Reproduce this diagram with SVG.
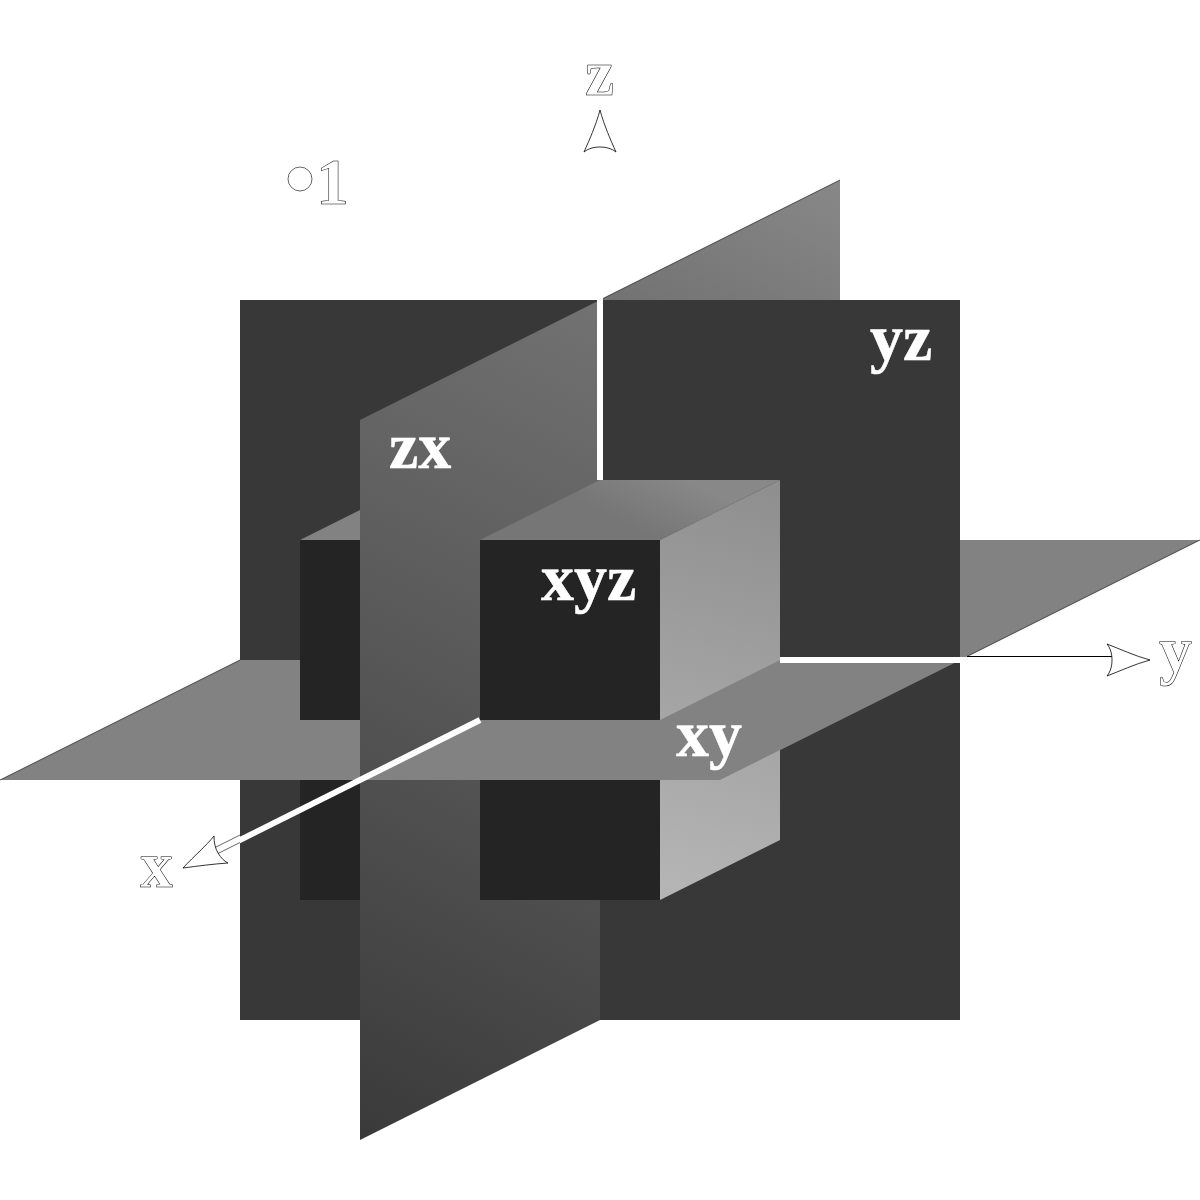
<svg xmlns="http://www.w3.org/2000/svg" width="1200" height="1200" viewBox="0 0 1200 1200">
<style>
.lab{font-family:"Liberation Serif",serif;font-size:66px;font-weight:bold;fill:#fff;stroke:#fff;stroke-width:.5}
.ax{font-family:"Liberation Serif",serif;font-size:66px;font-weight:bold;fill:#fff;stroke:#000;stroke-width:.5}
.xy{fill:#828282}
.yz{fill:#383838}
.front{fill:#242424}
.edge{fill:none;stroke:#000;stroke-width:.6}
.head{fill:#fff;stroke:#000;stroke-width:.8;stroke-linejoin:miter}
.w{stroke:#fff;stroke-width:6;fill:none}
</style>
<defs>
<linearGradient id="gz" gradientUnits="userSpaceOnUse" x1="840" y1="180" x2="360" y2="1140"><stop offset="0" stop-color="#888"/><stop offset=".2" stop-color="#727272"/><stop offset="1" stop-color="#3a3a3a"/></linearGradient>
<linearGradient id="gr" gradientUnits="userSpaceOnUse" x1="780" y1="480" x2="660" y2="900"><stop offset="0" stop-color="#8e8e8e"/><stop offset="1" stop-color="#b6b6b6"/></linearGradient>
<linearGradient id="gt" gradientUnits="userSpaceOnUse" x1="690" y1="480" x2="660" y2="540"><stop offset="0" stop-color="#888"/><stop offset="1" stop-color="#767676"/></linearGradient>
</defs>
<rect width="1200" height="1200" fill="#fff"/>
<g id="plane-zx-back"><polygon points="603,298.500 840,180 840,300 603,300" fill="url(#gz)"/></g>
<g id="plane-xy-back"><polygon class="xy" points="960,540 1200,540 960,660"/></g>
<g id="plane-yz"><rect class="yz" x="240" y="300" width="720" height="720"/></g>
<g id="block-left-lower"><rect class="front" x="300" y="780" width="60" height="120"/></g>
<g id="plane-xy"><polygon class="xy" points="0,780 240,660 960,660 720,780"/></g>
<g id="block-left-upper"><rect class="front" x="300" y="540" width="60" height="180"/><polygon class="xy" points="300,540 360,510 360,540"/></g>
<g id="plane-zx"><polygon points="360,420 597,301.500 597,480 600,480 600,1020 360,1140" fill="url(#gz)"/></g>
<g id="cube-lower"><rect class="front" x="480" y="780" width="180" height="120"/><polygon points="660,780 780,720 780,840 660,900" fill="url(#gr)"/></g>
<g id="plane-xy-front"><polygon class="xy" points="360,780 480,720 480,660 960,660 720,780"/></g>
<g id="cube-upper"><rect class="front" x="480" y="540" width="180" height="180"/><polygon points="480,540 600,480 780,480 660,540" fill="url(#gt)"/><polygon points="660,540 780,480 780,660 660,720" fill="url(#gr)"/></g>
<g id="connectors">
<line class="w" x1="600" y1="300" x2="600" y2="480"/>
<line class="w" x1="780" y1="660" x2="1112" y2="660"/>
<line class="w" x1="480" y1="720" x2="216" y2="852"/>
<path class="edge" d="M0,780 240,660M603,298.500 840,180M967,656.500 1200,540"/>
<line x1="967" y1="656.500" x2="1112" y2="656.500" stroke="#000" stroke-width="1"/>
<path class="edge" d="M215,847.500 240,835M218,853.500 240,842.500"/>
<path class="head" d="M600,110C604,125 611,141 616,152C611,148 605,147 600,147C595,147 589,148 584,152C589,141 596,125 600,110Z"/>
<path class="head" d="M1150,660C1135,664 1120,671 1107,676C1111,671 1112,665 1112,660C1112,655 1111,649 1107,644C1120,649 1135,656 1150,660Z"/>
<path class="head" d="M183,868C195,855 206,846 214,836C214,842 215,848 218,853C221,858 224,861 228,863C213,864 198,866 183,868Z"/>
</g>
<g id="unit"><circle cx="300" cy="179" r="12" fill="#fff" stroke="#000" stroke-width=".6"/><text class="ax" x="316" y="204">1</text></g>
<g id="labels">
<text class="ax" x="585" y="95">z</text>
<text class="ax" x="140" y="887">x</text>
<text class="ax" x="1159" y="672">y</text>
<text class="lab" x="870" y="360">yz</text>
<text class="lab" x="389" y="468">zx</text>
<text class="lab" x="541" y="600">xyz</text>
<text class="lab" x="676" y="756">xy</text>
</g>
</svg>
